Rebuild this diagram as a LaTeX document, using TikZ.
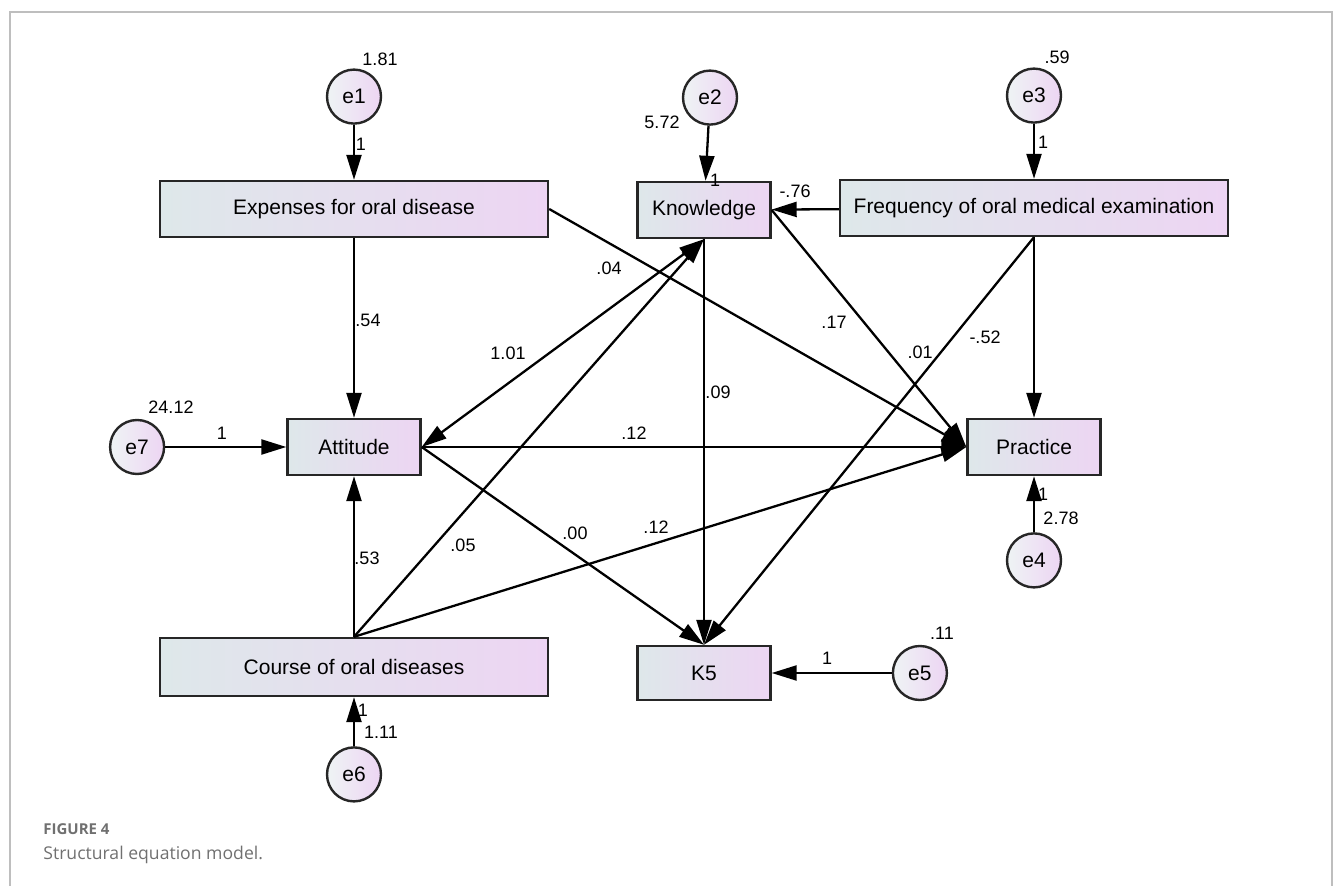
\documentclass[tikz,border=0pt]{standalone}
\usepackage{fontspec}
\setmainfont{Liberation Sans}
\newfontfamily\capfont{Open Sans}
\usepackage{xcolor}
\usepackage{tikz}
\usetikzlibrary{positioning,arrows.meta}

\definecolor{boxl}{RGB}{222,232,234}
\definecolor{boxr}{RGB}{237,213,243}
\definecolor{framegray}{RGB}{190,190,190}
\definecolor{capgray}{RGB}{112,112,112}

\begin{document}
\begin{tikzpicture}[
    x=0.5pt, y=-0.5pt,
    node distance=27.5pt,
    var/.style={draw=black!85, line width=1.2pt, left color=boxl, right color=boxr, minimum height=28pt, inner sep=0pt, font=\fontsize{10.5}{12}\selectfont},
    wide/.style={var, minimum width=194pt},
    narrow/.style={var, minimum width=66.5pt},
    err/.style={circle, draw=black!85, line width=1.2pt, left color=boxl!50!white, right color=boxr, minimum size=27pt, inner sep=0pt, font=\fontsize{10.5}{12}\selectfont},
    arr/.style={-{Triangle[length=12.5pt,width=7.5pt]}, line width=1.15pt},
    cov/.style={{Triangle[length=12.5pt,width=7.5pt]}-{Triangle[length=12.5pt,width=7.5pt]}, line width=1.15pt},
    est/.style={font=\fontsize{9}{10}\selectfont, inner sep=1pt},
    capline/.style={anchor=west, inner sep=0pt, text=capgray}
]
\useasboundingbox (0,0) rectangle (1333,886);

% Frame
\draw[framegray, line width=1pt] (10,886) -- (10,12) -- (1332,12) -- (1332,886);

% Observed variables
\node[wide] (ex) at (354,209) {Expenses for oral disease};
\node[narrow] (kn) at (704,210) {Knowledge};
\node[wide] (fr) at (1034,208) {Frequency of oral medical examination};
\node[narrow] (att) at (354,447) {Attitude};
\node[narrow] (pr) at (1034,447) {Practice};
\node[wide, minimum height=29pt] (co) at (354,667) {Course of oral diseases};
\node[narrow, minimum height=27pt] (k5) at (704,673) {K5};

% Error terms
\node[err, above=of ex] (e1) {e1};
\node[err, above=of kn, xshift=3pt] (e2) {e2};
\node[err, above=of fr] (e3) {e3};
\node[err, below=28pt of pr] (e4) {e4};
\node[err, right=60pt of k5] (e5) {e5};
\node[err, below=24.5pt of co] (e6) {e6};
\node[err, left=60.5pt of att] (e7) {e7};

\draw[arr] (e1) -- (ex);
\draw[arr] (e2) -- (kn);
\draw[arr] (e3) -- (fr);
\draw[arr] (e4) -- (pr);
\draw[arr] (e5) -- (k5);
\draw[arr] (e6) -- (co);
\draw[arr] (e7) -- (att);

% Paths
\draw[arr] (fr) -- (kn);
\draw[arr] (ex) -- (att);
\draw[arr] (ex.east) -- (pr.west);
\draw[cov] (att.east) -- (kn.south);
\draw[arr] (co.north) -- (kn.south);
\draw[arr] (co) -- (att);
\draw[arr] (co.north) -- (pr.west);
\draw[arr] (att) -- (pr);
\draw[arr] (att.east) -- (k5.north);
\draw[arr] (kn) -- (k5);
\draw[arr] (kn.east) -- (pr.west);
\draw[arr] (fr.south) -- (k5.north);
\draw[arr] (fr) -- (pr);

% Estimates
\node[est] (v1) at (380,59) {1.81};
\node[est] (w1) at (361,144) {1};
\node[est] (v2) at (662,122) {5.72};
\node[est] (w2) at (715,180) {1};
\node[est] (v3) at (1057,57) {.59};
\node[est] (w3) at (1043,142) {1};
\node[est] (bfk) at (795,191) {-.76};
\node[est] (bep) at (609,268) {.04};
\node[est] (bea) at (368,320) {.54};
\node[est] (bkp) at (834,322) {.17};
\node[est] (cak) at (508,353) {1.01};
\node[est] (bfk5) at (920,352) {.01};
\node[est] (bfp) at (985,337) {-.52};
\node[est] (bkk5) at (718,392) {.09};
\node[est] (v7) at (171,407) {24.12};
\node[est] (w7) at (222,433) {1};
\node[est] (bap) at (634,433) {.12};
\node[est] (w4) at (1043,494) {1};
\node[est] (v4) at (1061,518) {2.78};
\node[est] (bcp) at (656,527) {.12};
\node[est] (bak5) at (575,533) {.00};
\node[est] (bck) at (463,545) {.05};
\node[est] (bca) at (367,558) {.53};
\node[est] (v5) at (942,633) {.11};
\node[est] (w5) at (827,658) {1};
\node[est] (w6) at (363,710) {1};
\node[est] (v6) at (381,732) {1.11};

% Caption
\node[capline, font={\capfont\fontsize{7.5}{9}\selectfont\bfseries}] (fig) at (43,829) {FIGURE 4};
\node[capline, font={\capfont\fontsize{8.8}{10}\selectfont}] (title) at (43,855) {Structural equation model.};
\end{tikzpicture}
\end{document}
